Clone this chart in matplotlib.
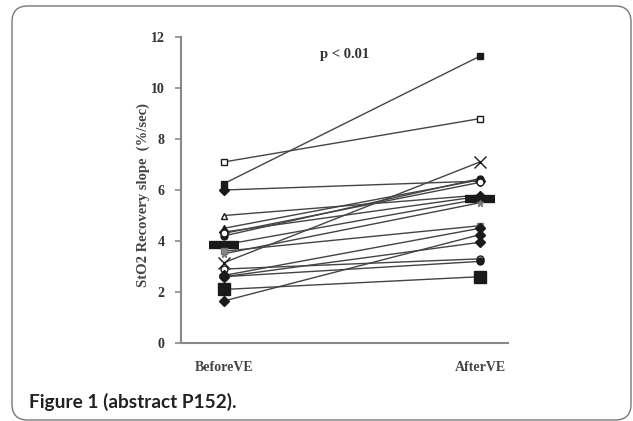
import numpy as np
import matplotlib
matplotlib.use('Agg')
import matplotlib.pyplot as plt
from matplotlib.patches import FancyBboxPatch

# 数据：每位患者 VE 前后的 StO2 恢复斜率
categories = ['BeforeVE', 'AfterVE']
before = [7.1, 6.25, 6.0, 5.0, 4.5, 4.2, 4.35, 4.3, 3.85, 3.5, 3.6, 3.15, 2.9, 2.6, 2.65, 2.6, 2.1, 1.65]
after = [8.8, 11.25, 6.35, 5.8, 6.4, 6.45, 5.75, 6.3, 5.65, 5.5, 4.6, 7.1, 3.3, 3.2, 4.5, 3.95, 2.6, 4.25]
markers = ['s', 's', 'D', '^', '^', 'o', 'D', 'o', '_', '*', 's', 'x', 'o', 'o', 'D', 'D', 's', 'D']
filled = [False, True, True, False, True, True, True, False, True, True, True, True, False, True, True, True, True, True]
yticks = [0, 2, 4, 6, 8, 10, 12]

W, H = 633, 421
fig = plt.figure(figsize=(W / 100, H / 100), dpi=100)

# 圆角外框
frame = FancyBboxPatch((12 / W, 1 - 420 / H), 619 / W, 414 / H,
                       boxstyle='round,pad=0,rounding_size=0.025',
                       transform=fig.transFigure, fill=False,
                       edgecolor='#777777', linewidth=1.0,
                       mutation_aspect=W / H)
fig.patches.append(frame)

ax = fig.add_axes([181 / W, 78 / H, 327 / W, 306 / H])

x = [1, 2]
for i in range(len(before)):
    m = markers[i]
    ms = 5
    mew = 1.0
    if m == '_':
        ms = 22
        mew = 6
    elif m == 's' and i == 16:
        ms = 8
    elif m == 'x':
        ms = 9
    fc = '#1a1a1a' if filled[i] else 'white'
    if i == 10:
        fc = '#888888'
    if i == 9:
        fc = '#777777'
    ax.plot(x, [before[i], after[i]], color='#444444', linewidth=1.0,
            marker=m, markersize=ms, markerfacecolor=fc,
            markeredgecolor='#1a1a1a' if i not in (9, 10) else '#777777',
            markeredgewidth=mew, zorder=3)

ax.set_xlim(1 - 43 / 256, 2 + 28 / 256)
ax.set_ylim(0, 12)
ax.set_yticks(yticks)
ax.set_yticklabels([str(t) for t in yticks], fontfamily='Liberation Serif',
                   fontweight='bold', fontsize=10, color='#333333')
ax.set_xticks(x)
ax.set_xticklabels(categories, fontfamily='Liberation Serif',
                   fontweight='bold', fontsize=10, color='#444444')
ax.tick_params(axis='x', length=0, pad=13)
ax.tick_params(axis='y', length=4, width=1.2, color='#888888', pad=8)

for s in ['top', 'right']:
    ax.spines[s].set_visible(False)
for s in ['left', 'bottom']:
    ax.spines[s].set_color('#888888')
    ax.spines[s].set_linewidth(1.5)

# y 轴标题，手动放置
fig.text(143 / W, 1 - 195 / H, 'StO2 Recovery slope  (%/sec)',
         fontfamily='Liberation Serif', fontweight='bold', fontsize=10.5,
         color='#444444', rotation=90, ha='center', va='center')

ax.text(1.47, 11.3, 'p < 0.01', fontfamily='Liberation Serif',
        fontweight='bold', fontsize=10.5, color='#333333', ha='center', va='center')

cap = fig.text(29 / W, 1 - 402 / H, 'Figure 1 (abstract P152).', fontfamily='Lato',
               fontweight='bold', fontsize=13, color='#222222', ha='left', va='center')

# 根据目标宽度调整字号
fig.canvas.draw()
r = fig.canvas.get_renderer()
bb = cap.get_window_extent(r)
cap.set_fontsize(13 * 207 / bb.width)

plt.savefig('out.png', dpi=100)
